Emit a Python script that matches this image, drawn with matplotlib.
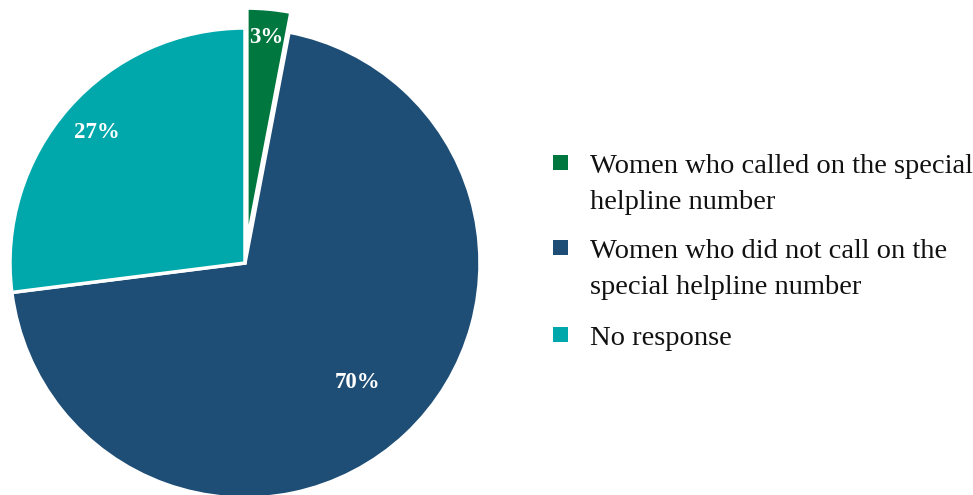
import numpy as np
import matplotlib
matplotlib.use('Agg')
import matplotlib.pyplot as plt
import matplotlib.patches as mpatches

plt.rcParams['font.family'] = ['Liberation Serif', 'DejaVu Serif']

# ── data ──────────────────────────────────────────────────────────────────────
labels = ['Women who called on the special\nhelpline number',
          'Women who did not call on the\nspecial helpline number',
          'No response']
values = [3, 70, 27]
colors = ['#00773F', '#1E4E76', '#00A8AC']

# ── style ─────────────────────────────────────────────────────────────────────
explode = [0.085, 0, 0]
pct_dist = [0.88, 0.70, 0.84]

W, H = 973, 495
fig = plt.figure(figsize=(W / 100, H / 100), dpi=100)

# pie axes: centre at (245, 232) px from bottom-left, radius 235 px
R_PX, LIM = 235, 1.2
box = 2 * R_PX * LIM
ax = fig.add_axes([(245 - box / 2) / W, (232 - box / 2) / H, box / W, box / H])

wedges, _ = ax.pie(values, colors=colors, startangle=90, counterclock=False,
                   explode=explode, radius=1.0,
                   wedgeprops=dict(edgecolor='white', linewidth=2.5))
ax.set_xlim(-LIM, LIM)
ax.set_ylim(-LIM, LIM)
ax.set_aspect('equal')
ax.axis('off')

for w, v, d in zip(wedges, values, pct_dist):
    ang = np.deg2rad((w.theta1 + w.theta2) / 2)
    cx, cy = w.center
    ax.text(cx + d * w.r * np.cos(ang), cy + d * w.r * np.sin(ang), f'{v}%',
            ha='center', va='center', color='white', fontsize=16.5,
            fontweight='bold')

# ── legend (square aligned with first line) ──────────────────────────────────
first_base = [173, 258, 345]
for lab, col, yb in zip(labels, colors, first_base):
    sq = 15
    fig.patches.append(mpatches.Rectangle(
        (553 / W, (H - yb + 3) / H), sq / W, sq / H,
        transform=fig.transFigure, facecolor=col, edgecolor='none'))
    lines = lab.split('\n')
    for k, line in enumerate(lines):
        fig.text(590 / W, (H - yb - 36 * k) / H, line, ha='left',
                 va='baseline', fontsize=20.5, color='#111111')

fig.savefig('out.png', dpi=100, facecolor='white')
plt.close(fig)
